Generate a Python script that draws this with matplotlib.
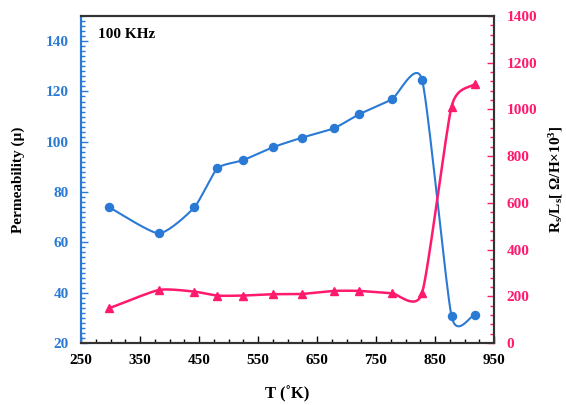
import numpy as np
import matplotlib
matplotlib.use('Agg')
import matplotlib.pyplot as plt
from matplotlib.ticker import MultipleLocator, FixedLocator

plt.rcParams['font.family'] = ['Liberation Serif', 'DejaVu Serif']
plt.rcParams['font.weight'] = 'bold'
plt.rcParams['mathtext.fontset'] = 'custom'
plt.rcParams['mathtext.rm'] = 'Liberation Serif:bold'
plt.rcParams['mathtext.it'] = 'Liberation Serif:bold'

# temperature (K)
temp = [298, 382, 442, 481, 524, 575, 624, 679, 722, 777, 828, 878, 917]
# permeability
mu = [73.9, 63.6, 73.9, 89.4, 92.6, 97.8, 101.6, 105.4, 111.0, 116.9, 124.7, 30.7, 31.1]
# Rs/Ls
rs_ls = [149, 227, 220, 203, 203, 209, 210, 223, 223, 213, 213, 1012, 1109]

blue = '#2A7AD5'
pink = '#FF1A6E'


def smooth(x, y, n=30, tension=0.6):
    # cubic bezier through the points, tangents from neighbours (scaled down)
    p = np.column_stack([x, y]).astype(float)
    p = np.vstack([2 * p[0] - p[1], p, 2 * p[-1] - p[-2]])
    out = []
    t = np.linspace(0, 1, n)[:, None]
    for i in range(1, len(p) - 2):
        p0, p1, p2, p3 = p[i - 1], p[i], p[i + 1], p[i + 2]
        c1 = p1 + tension * (p2 - p0) / 6
        c2 = p2 - tension * (p3 - p1) / 6
        seg = ((1 - t) ** 3 * p1 + 3 * (1 - t) ** 2 * t * c1
               + 3 * (1 - t) * t ** 2 * c2 + t ** 3 * p2)
        out.append(seg if i == 1 else seg[1:])
    out = np.vstack(out)
    return out[:, 0], out[:, 1]


fig = plt.figure(figsize=(5.66, 4.05), dpi=100)
ax = fig.add_axes([81 / 566, 62 / 405, 413 / 566, 327 / 405])
ax2 = ax.twinx()

sx, sy = smooth(temp, mu)
ax.plot(sx, sy, color=blue, lw=1.5)
ax.plot(temp, mu, 'o', color=blue, ms=5.8)

sx2, sy2 = smooth(temp, rs_ls)
ax2.plot(sx2, sy2, color=pink, lw=1.8)
ax2.plot(temp, rs_ls, '^', color=pink, ms=6)

ax.set_xlim(250, 950)
ax.set_ylim(20, 150)
ax2.set_ylim(0, 1400)

ax.xaxis.set_major_locator(FixedLocator(np.arange(250, 951, 100)))
ax.xaxis.set_minor_locator(FixedLocator(np.arange(250, 951, 25)))
ax.yaxis.set_major_locator(MultipleLocator(20))
ax.yaxis.set_minor_locator(MultipleLocator(2))
ax2.yaxis.set_major_locator(MultipleLocator(200))
ax2.yaxis.set_minor_locator(MultipleLocator(40))

ax.tick_params(axis='x', which='both', direction='in', top=False, colors='black',
               labelsize=11, pad=8)
ax.tick_params(axis='x', which='major', length=5, width=1)
ax.tick_params(axis='x', which='minor', length=3, width=1)
ax.tick_params(axis='y', which='both', direction='in', colors=blue, labelsize=11, pad=9)
ax.tick_params(axis='y', which='major', length=5, width=1)
ax.tick_params(axis='y', which='minor', length=3, width=1)
ax2.tick_params(axis='y', which='both', direction='in', colors=pink, labelsize=11, pad=9)
ax2.tick_params(axis='y', which='major', length=5, width=1)
ax2.tick_params(axis='y', which='minor', length=3, width=1)

for a in (ax, ax2):
    for s in a.spines.values():
        s.set_linewidth(1.5)
        s.set_color('#333333')
    a.spines['left'].set_color(blue)

ax.set_xlabel('T (˚K)', fontsize=12, fontweight='bold')
ax.xaxis.set_label_coords(0.5, -0.13)
ax.set_ylabel('Permeability (µ)', fontsize=11, fontweight='bold')
ax.yaxis.set_label_coords(-0.135, 0.5)
ax2.set_ylabel(r'R$_s$/L$_s$[ Ω/H×10$^3$]', fontsize=11, fontweight='bold',
               rotation=90)
ax2.yaxis.set_label_coords(1.128, 0.5)

ax.text(0.04, 0.942, '100 KHz', transform=ax.transAxes, fontsize=11,
        fontweight='bold', va='center', ha='left')

fig.savefig('out.png', dpi=100)
